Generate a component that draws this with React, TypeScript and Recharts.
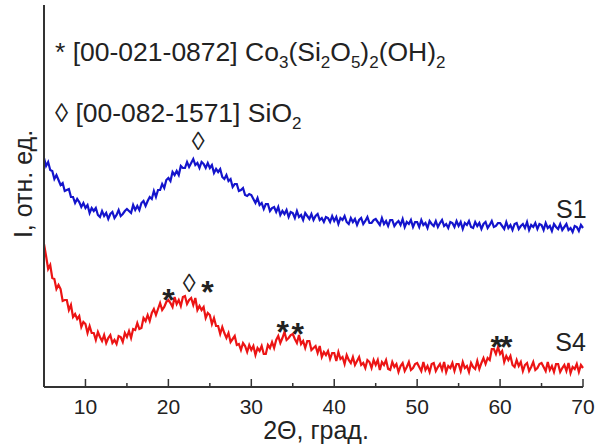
import { LineChart, Line, XAxis, YAxis, ReferenceDot } from "recharts"

// 2θ, degrees (0.25° step)
const twoTheta = [
  5, 5.25, 5.5, 5.75, 6, 6.25, 6.5, 6.75, 7, 7.25, 7.5, 7.75, 8, 8.25, 8.5, 8.75, 9, 9.25, 9.5, 9.75,
  10, 10.25, 10.5, 10.75, 11, 11.25, 11.5, 11.75, 12, 12.25, 12.5, 12.75, 13, 13.25, 13.5, 13.75, 14, 14.25, 14.5, 14.75,
  15, 15.25, 15.5, 15.75, 16, 16.25, 16.5, 16.75, 17, 17.25, 17.5, 17.75, 18, 18.25, 18.5, 18.75, 19, 19.25, 19.5, 19.75,
  20, 20.25, 20.5, 20.75, 21, 21.25, 21.5, 21.75, 22, 22.25, 22.5, 22.75, 23, 23.25, 23.5, 23.75, 24, 24.25, 24.5, 24.75,
  25, 25.25, 25.5, 25.75, 26, 26.25, 26.5, 26.75, 27, 27.25, 27.5, 27.75, 28, 28.25, 28.5, 28.75, 29, 29.25, 29.5, 29.75,
  30, 30.25, 30.5, 30.75, 31, 31.25, 31.5, 31.75, 32, 32.25, 32.5, 32.75, 33, 33.25, 33.5, 33.75, 34, 34.25, 34.5, 34.75,
  35, 35.25, 35.5, 35.75, 36, 36.25, 36.5, 36.75, 37, 37.25, 37.5, 37.75, 38, 38.25, 38.5, 38.75, 39, 39.25, 39.5, 39.75,
  40, 40.25, 40.5, 40.75, 41, 41.25, 41.5, 41.75, 42, 42.25, 42.5, 42.75, 43, 43.25, 43.5, 43.75, 44, 44.25, 44.5, 44.75,
  45, 45.25, 45.5, 45.75, 46, 46.25, 46.5, 46.75, 47, 47.25, 47.5, 47.75, 48, 48.25, 48.5, 48.75, 49, 49.25, 49.5, 49.75,
  50, 50.25, 50.5, 50.75, 51, 51.25, 51.5, 51.75, 52, 52.25, 52.5, 52.75, 53, 53.25, 53.5, 53.75, 54, 54.25, 54.5, 54.75,
  55, 55.25, 55.5, 55.75, 56, 56.25, 56.5, 56.75, 57, 57.25, 57.5, 57.75, 58, 58.25, 58.5, 58.75, 59, 59.25, 59.5, 59.75,
  60, 60.25, 60.5, 60.75, 61, 61.25, 61.5, 61.75, 62, 62.25, 62.5, 62.75, 63, 63.25, 63.5, 63.75, 64, 64.25, 64.5, 64.75,
  65, 65.25, 65.5, 65.75, 66, 66.25, 66.5, 66.75, 67, 67.25, 67.5, 67.75, 68, 68.25, 68.5, 68.75, 69, 69.25, 69.5, 69.75,
  70,
]

// intensity, arb. units (S1 trace is offset upwards)
const s1 = [
  229, 221, 225, 217, 216, 208, 212, 207, 202, 204, 196, 197, 198, 190, 190, 184, 188, 185, 180, 184,
  179, 182, 174, 179, 176, 179, 172, 170, 176, 171, 174, 168, 173, 175, 169, 172, 177, 171, 173, 176,
  178, 176, 174, 182, 177, 181, 177, 184, 186, 181, 186, 190, 188, 196, 190, 197, 197, 203, 199, 207,
  209, 206, 215, 212, 216, 212, 221, 219, 219, 225, 220, 224, 228, 222, 224, 219, 225, 223, 219, 224,
  219, 222, 214, 218, 215, 218, 210, 208, 212, 206, 208, 200, 203, 203, 196, 197, 199, 192, 191, 193,
  192, 188, 184, 189, 182, 184, 178, 183, 183, 176, 179, 180, 175, 180, 172, 176, 173, 177, 170, 175,
  174, 169, 176, 170, 172, 167, 174, 171, 168, 173, 167, 171, 173, 167, 169, 165, 170, 169, 165, 171,
  166, 170, 163, 169, 167, 171, 165, 163, 169, 165, 168, 162, 167, 169, 163, 166, 170, 164, 164, 167,
  168, 165, 162, 169, 163, 166, 161, 167, 167, 161, 164, 166, 162, 168, 160, 165, 163, 167, 160, 165,
  165, 160, 167, 162, 164, 159, 166, 163, 161, 166, 160, 164, 167, 161, 163, 159, 165, 164, 160, 166,
  161, 165, 158, 164, 162, 166, 160, 159, 165, 161, 164, 158, 163, 165, 159, 162, 166, 160, 161, 164,
  164, 161, 158, 165, 159, 162, 157, 163, 164, 158, 161, 163, 159, 165, 157, 162, 160, 164, 158, 163,
  162, 157, 164, 159, 161, 156, 163, 160, 158, 163, 157, 160, 163, 157, 159, 155, 161, 160, 156, 162,
  159,
]

const s4 = [
  143, 131, 118, 122, 109, 108, 98, 102, 98, 86, 87, 87, 77, 82, 70, 73, 68, 71, 60, 65,
  63, 54, 61, 54, 54, 47, 55, 50, 46, 52, 44, 49, 52, 44, 47, 43, 51, 50, 45, 54,
  50, 56, 49, 58, 57, 64, 58, 59, 69, 66, 72, 66, 74, 78, 72, 78, 84, 77, 80, 85,
  87, 84, 80, 90, 83, 87, 81, 90, 91, 83, 87, 89, 82, 89, 77, 81, 77, 80, 69, 74,
  72, 63, 69, 61, 61, 53, 60, 54, 49, 54, 45, 48, 51, 42, 43, 37, 44, 41, 35, 42,
  37, 41, 32, 39, 36, 41, 33, 33, 42, 39, 45, 39, 47, 51, 44, 49, 55, 47, 49, 52,
  53, 48, 44, 52, 43, 46, 39, 46, 46, 37, 39, 41, 34, 41, 30, 35, 32, 36, 28, 34,
  34, 26, 35, 28, 30, 23, 32, 27, 24, 30, 22, 26, 30, 22, 24, 19, 27, 25, 19, 27,
  22, 27, 17, 25, 22, 27, 18, 17, 25, 20, 23, 15, 21, 24, 16, 20, 25, 17, 19, 23,
  24, 20, 16, 25, 17, 21, 15, 23, 24, 16, 20, 23, 17, 25, 15, 21, 19, 24, 16, 23,
  23, 16, 25, 19, 21, 15, 24, 20, 18, 26, 18, 24, 29, 23, 29, 27, 38, 38, 33, 40,
  33, 36, 25, 31, 27, 31, 22, 20, 27, 21, 25, 16, 22, 24, 16, 20, 25, 17, 19, 23,
  24, 20, 16, 25, 17, 21, 15, 23, 23, 15, 19, 22, 16, 24, 14, 20, 18, 23, 15, 22,
  19,
]

const majorTicks = [10, 20, 30, 40, 50, 60, 70]
const allTicks = [10, 15, 20, 25, 30, 35, 40, 45, 50, 55, 60, 65, 70]

// phase markers: [2θ, intensity, glyph]
const markers: [number, number, string][] = [
  [23.6, 246, "◊"],
  [20.0, 94, "*"],
  [22.5, 104, "◊"],
  [24.7, 102, "*"],
  [33.8, 62, "*"],
  [35.6, 60, "*"],
  [60.0, 47, "**"],
]

const seriesLabels: [number, number, string][] = [
  [68.6, 178, "S1"],
  [68.5, 45, "S4"],
]

const rows = twoTheta.map((t, i) => ({ t, s1: s1[i], s4: s4[i] }))

const FONT = "'Liberation Sans', Arial, sans-serif"
const AXIS = "#333"

const XTick = (props: any) => {
  const { x, y, payload } = props
  const major = majorTicks.includes(payload.value)
  return (
    <g>
      <line x1={x} x2={x} y1={y} y2={y - (major ? 8 : 4)} stroke={AXIS} strokeWidth={1.5} />
      {major && (
        <text x={x} y={y + 27} textAnchor="middle" fontSize={21} fontFamily={FONT} fill="#222">
          {payload.value}
        </text>
      )}
    </g>
  )
}

const markerShape = (glyph: string) => (p: any) => {
  const star = glyph.startsWith("*")
  return (
    <text
      x={p.cx}
      y={p.cy + (star ? 7 : 0)}
      textAnchor="middle"
      dominantBaseline="central"
      fontSize={star ? 32 : 26}
      fontWeight={star ? "bold" : "normal"}
      letterSpacing={glyph === "**" ? -3 : 0}
      fontFamily={FONT}
      fill="#222"
    >
      {glyph}
    </text>
  )
}

const labelShape = (txt: string) => (p: any) => (
  <text x={p.cx} y={p.cy} textAnchor="middle" dominantBaseline="central" fontSize={25} fontFamily={FONT} fill="#222">
    {txt}
  </text>
)

export default function App() {
  return (
    <div style={{ position: "absolute", left: 0, top: 0, width: 595, height: 445, background: "#fff" }}>
      <LineChart width={595} height={445} data={rows} margin={{ top: 5, right: 12, left: 0, bottom: 0 }}>
        <XAxis
          dataKey="t"
          type="number"
          domain={[5, 70]}
          ticks={allTicks}
          interval={0}
          tick={<XTick />}
          tickLine={false}
          tickSize={0}
          tickMargin={0}
          height={58}
          axisLine={{ stroke: AXIS, strokeWidth: 2 }}
        />
        <YAxis
          type="number"
          domain={[0, 382]}
          width={44}
          tick={false}
          tickLine={false}
          axisLine={{ stroke: AXIS, strokeWidth: 2 }}
        />
        <Line dataKey="s1" type="linear" stroke="#1414cc" strokeWidth={2.2} dot={false} isAnimationActive={false} />
        <Line dataKey="s4" type="linear" stroke="#ec1414" strokeWidth={2.2} dot={false} isAnimationActive={false} />
        {markers.map(([x, y, g], i) => (
          <ReferenceDot key={`m${i}`} x={x} y={y} r={0} shape={markerShape(g)} />
        ))}
        {seriesLabels.map(([x, y, s]) => (
          <ReferenceDot key={s} x={x} y={y} r={0} shape={labelShape(s)} />
        ))}
      </LineChart>
      <svg
        width={595}
        height={445}
        style={{ position: "absolute", left: 0, top: 0, pointerEvents: "none" }}
        fontFamily={FONT}
        fill="#222"
      >
        <text x={55} y={61} fontSize={26.5}>
          * [00-021-0872] Co<tspan dy={7} fontSize={17}>3</tspan>
          <tspan dy={-7}>(Si</tspan>
          <tspan dy={7} fontSize={17}>2</tspan>
          <tspan dy={-7}>O</tspan>
          <tspan dy={7} fontSize={17}>5</tspan>
          <tspan dy={-7}>)</tspan>
          <tspan dy={7} fontSize={17}>2</tspan>
          <tspan dy={-7}>(OH)</tspan>
          <tspan dy={7} fontSize={17}>2</tspan>
        </text>
        <text x={55} y={122} fontSize={26.5}>
          ◊ [00-082-1571] SiO<tspan dy={7} fontSize={17}>2</tspan>
        </text>
        <text x={316} y={439} fontSize={25} textAnchor="middle">
          2Θ, град.
        </text>
        <text x={32} y={184} fontSize={25} textAnchor="middle" transform="rotate(-90, 32, 184)">
          I, отн. ед.
        </text>
      </svg>
    </div>
  )
}
